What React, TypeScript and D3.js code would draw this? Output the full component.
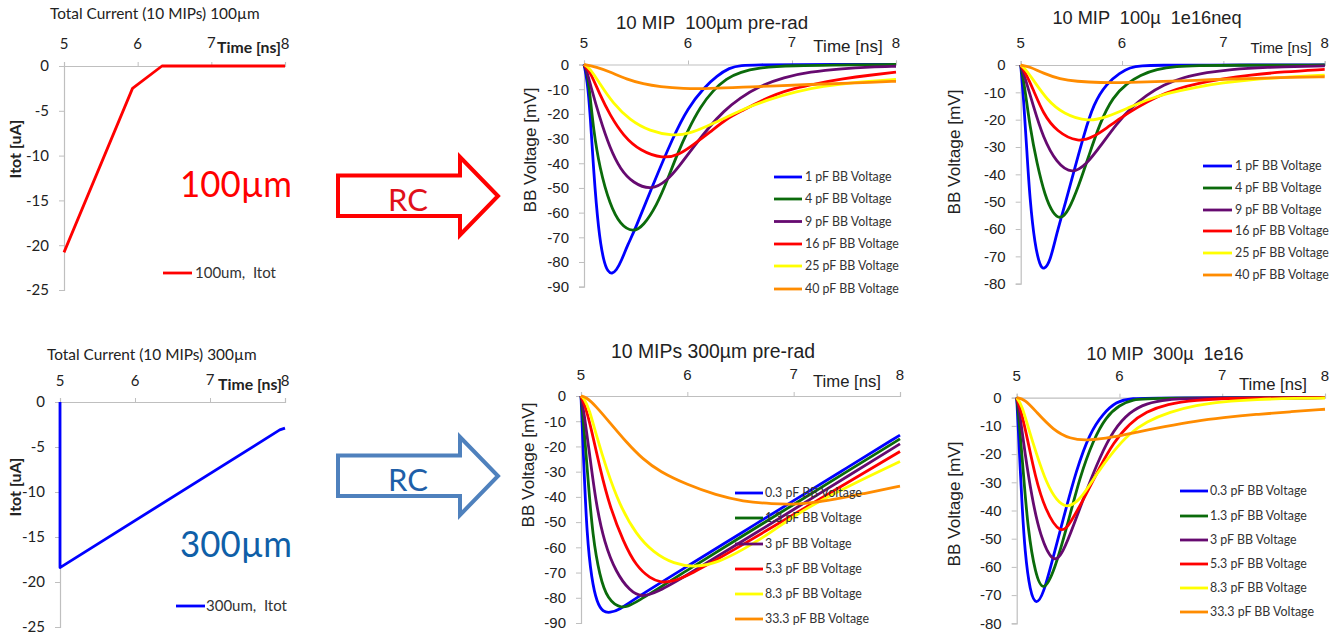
import { useEffect, useRef } from 'react';
import * as d3 from 'd3';

type Pt = [number, number];

const xTicks = [5, 6, 7, 8];
const currentTicks = [0, -5, -10, -15, -20, -25];
const ticks90 = [0, -10, -20, -30, -40, -50, -60, -70, -80, -90];
const ticks80 = [0, -10, -20, -30, -40, -50, -60, -70, -80];

const labels100 = ['1 pF BB Voltage', '4 pF BB Voltage', '9 pF BB Voltage', '16 pF BB Voltage', '25 pF BB Voltage', '40 pF BB Voltage'];
const labels300 = ['0.3 pF BB Voltage', '1.3 pF BB Voltage', '3 pF BB Voltage', '5.3 pF BB Voltage', '8.3 pF BB Voltage', '33.3 pF BB Voltage'];
const seriesColors = ['#0000ff', '#0b6b0b', '#660a70', '#ff0000', '#ffff00', '#ff8c00'];

// total current
const itot100: Pt[] = [[5, -20.8], [5.93, -2.5], [6.33, 0], [8, 0]];
const itot300: Pt[] = [[5, 0], [5, -18.4], [7.93, -3.1], [8, -2.9]];

// 100um pre-rad
const pre100_1: Pt[] = [[5, 0], [5.03, -6], [5.06, -20], [5.09, -42], [5.14, -68], [5.19, -80], [5.23, -84], [5.27, -84.8], [5.31, -83.5], [5.36, -79.5], [5.42, -73], [5.49, -67], [5.65, -50], [5.86, -29], [6, -17.5], [6.15, -9.5], [6.28, -4.5], [6.4, -1.3], [6.5, -0.3], [6.7, -0.1], [6.92, 0], [8, 0]];
const pre100_4: Pt[] = [[5, 0], [5.03, -3], [5.06, -13], [5.09, -26], [5.15, -42], [5.25, -57], [5.35, -65], [5.47, -68], [5.57, -65.5], [5.7, -57], [5.8, -47], [5.89, -37], [6, -26.5], [6.12, -17], [6.24, -10.5], [6.37, -5.7], [6.5, -3], [6.7, -1.3], [6.85, -0.8], [7.01, -0.5], [7.33, -0.2], [8, 0]];
const pre100_9: Pt[] = [[5, 0], [5.03, -3], [5.06, -8], [5.15, -21.5], [5.25, -34], [5.35, -42.5], [5.47, -48], [5.65, -51], [5.8, -47], [5.92, -41], [6.05, -33.5], [6.21, -25], [6.34, -19], [6.5, -13.5], [6.69, -8.7], [6.92, -5.2], [7.17, -3], [7.49, -1.6], [7.75, -1], [8, -0.7]];
const pre100_16: Pt[] = [[5, 0], [5.06, -3], [5.15, -12], [5.25, -20.5], [5.38, -29], [5.54, -35], [5.76, -38.2], [5.92, -36.5], [6.05, -32.5], [6.21, -27.5], [6.37, -21.9], [6.53, -18.5], [6.69, -15], [6.85, -12], [7.01, -9.7], [7.24, -7.7], [7.49, -5.8], [7.75, -4.3], [8, -3.1]];
const pre100_25: Pt[] = [[5, 0], [5.06, -1.6], [5.15, -7.7], [5.28, -15.8], [5.44, -22.5], [5.63, -27], [5.86, -29], [6.02, -27.9], [6.18, -25], [6.34, -22], [6.53, -18], [6.79, -14], [7.04, -10.9], [7.3, -8.8], [7.59, -7.3], [7.81, -6.6], [8, -6]];
const pre100_40: Pt[] = [[5, 0], [5.12, -1], [5.25, -3], [5.41, -6], [5.57, -7.9], [5.73, -9], [5.95, -9.8], [6.21, -9.8], [6.53, -9.2], [6.85, -8.6], [7.17, -8.1], [7.49, -7.6], [7.75, -7.2], [8, -6.8]];

// 100um 1e16
const irr100_1: Pt[] = [[5, 0], [5.03, -13], [5.06, -31], [5.09, -49], [5.14, -66], [5.19, -73.5], [5.23, -75], [5.29, -72], [5.355, -61.6], [5.44, -50.6], [5.52, -39.6], [5.62, -26], [5.72, -14], [5.85, -6.7], [5.98, -2.8], [6.08, -0.9], [6.18, -0.2], [6.4, -0.1], [6.7, 0], [8, 0]];
const irr100_4: Pt[] = [[5, 0], [5.04, -8], [5.09, -22.5], [5.16, -36], [5.24, -48], [5.32, -54.5], [5.395, -56.5], [5.47, -53.5], [5.57, -44.5], [5.67, -33.5], [5.78, -21.3], [5.91, -11.6], [6.05, -6.7], [6.18, -3.7], [6.34, -1.5], [6.54, -0.5], [6.74, -0.2], [7.07, -0.1], [8, 0]];
const irr100_9: Pt[] = [[5, 0], [5.04, -4.3], [5.125, -15], [5.22, -26.5], [5.355, -36], [5.51, -40], [5.65, -36.3], [5.78, -30], [5.95, -21.3], [6.08, -16], [6.24, -11], [6.41, -7.3], [6.6, -4.5], [6.84, -2.7], [7.07, -1.6], [7.39, -0.85], [8, -0.3]];
const irr100_16: Pt[] = [[5, 0], [5.04, -2.4], [5.125, -9], [5.22, -17.7], [5.355, -24.4], [5.57, -28.4], [5.72, -26.3], [5.85, -23], [5.98, -19.5], [6.145, -15.6], [6.34, -11.6], [6.54, -8.7], [6.74, -6.8], [7, -5], [7.26, -3.7], [7.59, -2.5], [8, -1.6]];
const irr100_25: Pt[] = [[5, 0], [5.04, -1.2], [5.125, -5.5], [5.26, -12.8], [5.42, -17.9], [5.67, -20.9], [5.85, -19], [6.05, -15.9], [6.24, -12.8], [6.44, -10.4], [6.74, -8], [7, -6.5], [7.26, -5.4], [7.59, -4.5], [8, -3.7]];
const irr100_40: Pt[] = [[5, 0], [5.09, -0.6], [5.22, -3], [5.39, -5.2], [5.55, -6], [5.78, -6.5], [6.08, -6.4], [6.41, -6], [6.74, -5.6], [7, -5.2], [7.33, -4.9], [7.66, -4.5], [8, -4.3]];

// 300um pre-rad
const pre300_03: Pt[] = [[5, 0], [5.025, -26], [5.056, -55.7], [5.1, -72.8], [5.15, -82], [5.207, -85.6], [5.27, -86], [5.364, -84.7], [5.5, -80.5], [6, -67.5], [6.5, -54.5], [7, -41.5], [7.5, -28.5], [8, -15.5]];
const pre300_13: Pt[] = [[5, 0], [5.03, -13.5], [5.066, -33], [5.11, -55.7], [5.176, -71.5], [5.25, -80.7], [5.38, -84.5], [5.49, -82.7], [6, -69], [6.5, -56], [7, -43], [7.5, -30], [8, -17]];
const pre300_3: Pt[] = [[5, 0], [5.03, -7], [5.08, -22.7], [5.14, -42.5], [5.22, -58.3], [5.33, -70], [5.46, -77.4], [5.57, -79.8], [5.71, -78], [6, -71], [6.5, -58], [7, -45], [7.5, -32], [8, -19]];
const pre300_53: Pt[] = [[5, 0], [5.04, -4], [5.1, -13.5], [5.18, -29], [5.27, -43.8], [5.4, -58], [5.52, -67.5], [5.65, -72.3], [5.756, -74], [5.85, -73.6], [6, -71.5], [6.5, -59.5], [7, -47], [7.5, -34.5], [8, -22]];
const pre300_83: Pt[] = [[5, 0], [5.03, -1], [5.08, -5.5], [5.14, -15], [5.24, -29], [5.36, -43], [5.52, -55], [5.68, -62], [5.87, -66.6], [6.085, -68], [6.3, -65.8], [6.52, -61], [6.78, -54.4], [7.03, -46.5], [7.5, -36], [8, -26]];
const pre300_333: Pt[] = [[5, 0], [5.05, -0.5], [5.14, -4], [5.27, -10.5], [5.43, -18.5], [5.58, -25], [5.74, -30], [6, -35.2], [6.27, -39.3], [6.52, -41.8], [6.8, -42.8], [7.03, -43], [7.31, -41.6], [7.65, -38.8], [8, -35.7]];

// 300um 1e16
const irr300_03: Pt[] = [[5, 0], [5.016, -11.5], [5.05, -37], [5.08, -55], [5.13, -69], [5.19, -73.8], [5.26, -69.5], [5.34, -58.7], [5.45, -43.4], [5.58, -25.6], [5.71, -12.6], [5.84, -5.6], [5.97, -1.4], [6.1, -0.2], [6.43, 0], [8, 0]];
const irr300_13: Pt[] = [[5, 0], [5.026, -9], [5.065, -26.8], [5.11, -47], [5.18, -62.5], [5.26, -69.5], [5.37, -61], [5.49, -45.7], [5.615, -28], [5.745, -15], [5.87, -6.7], [6, -2.6], [6.13, -0.6], [6.3, -0.1], [8, 0]];
const irr300_3: Pt[] = [[5, 0], [5.03, -5.5], [5.08, -19.7], [5.146, -35], [5.227, -49], [5.356, -59.2], [5.45, -55], [5.55, -45.7], [5.68, -32.7], [5.81, -21], [5.94, -11.5], [6.1, -5], [6.26, -2], [6.46, -0.6], [6.75, -0.1], [8, 0]];
const irr300_53: Pt[] = [[5, 0], [5.04, -4.4], [5.1, -13.8], [5.18, -28], [5.275, -39.7], [5.43, -49], [5.53, -44], [5.68, -34], [5.81, -24.5], [5.94, -16], [6.1, -9], [6.26, -5], [6.46, -2.2], [6.75, -0.8], [7.07, -0.2], [7.46, -0.1], [8, 0]];
const irr300_83: Pt[] = [[5, 0], [5.05, -2.6], [5.11, -10.3], [5.19, -19.7], [5.29, -30.4], [5.39, -36.6], [5.486, -39.2], [5.615, -36.6], [5.78, -26.8], [5.94, -19], [6.1, -12.6], [6.26, -8.5], [6.49, -5], [6.75, -2.6], [7, -1.4], [7.33, -0.6], [7.72, -0.2], [8, -0.1]];
const irr300_333: Pt[] = [[5, 0], [5.08, -0.6], [5.19, -5], [5.356, -11.5], [5.52, -14.6], [5.68, -15.3], [5.94, -14], [6.17, -12.2], [6.43, -10.3], [6.75, -8.2], [7, -7.1], [7.33, -5.9], [7.66, -5], [8, -4.1]];

const LATO = 'Lato, sans-serif';
const ARIAL = '"Liberation Sans", Arial, sans-serif';

type Panel = {
  x: [number, number];
  y: [number, number];
  yMin: number;
  yTicks: number[];
  series: Pt[][];
  labels: string[];
  colors: string[];
  smooth: boolean;
  title: string;
  titleX: number;
  titleY: number;
  titleSize: number;
  small: boolean; // the two Itot plots have smaller Calibri style text
  xTickY: number;
  timeX: number;
  timeY: number;
  timeSize: number;
  yTitle: string;
  yTitleX: number;
  yTitleY: number;
  legendLine: [number, number];
  legendText: number;
  legendY: number[];
};

const panels: Panel[] = [
  { x: [64, 285], y: [66, 290], yMin: -25, yTicks: currentTicks, series: [itot100], labels: ['100um,  Itot'], colors: ['#ff0000'], smooth: false,
    title: 'Total Current (10 MIPs) 100µm', titleX: 50, titleY: 19, titleSize: 15.4, small: true, xTickY: 49, timeX: 249, timeY: 53, timeSize: 15.8,
    yTitle: 'Itot [uA]', yTitleX: 15, yTitleY: 149, legendLine: [163, 192], legendText: 195, legendY: [273] },
  { x: [584, 896], y: [64.5, 286.7], yMin: -90, yTicks: ticks90, series: [pre100_1, pre100_4, pre100_9, pre100_16, pre100_25, pre100_40], labels: labels100, colors: seriesColors, smooth: true,
    title: '10 MIP  100µm pre-rad', titleX: 712, titleY: 29, titleSize: 18.7, small: false, xTickY: 48, timeX: 848, timeY: 52, timeSize: 17,
    yTitle: 'BB Voltage [mV]', yTitleX: 530, yTitleY: 150, legendLine: [774, 802], legendText: 805, legendY: [177, 199, 221.5, 244, 266, 289] },
  { x: [1020.7, 1324.7], y: [65, 283.7], yMin: -80, yTicks: ticks80, series: [irr100_1, irr100_4, irr100_9, irr100_16, irr100_25, irr100_40], labels: labels100, colors: seriesColors, smooth: true,
    title: '10 MIP  100µ  1e16neq', titleX: 1147, titleY: 24, titleSize: 18.2, small: false, xTickY: 48, timeX: 1281, timeY: 53, timeSize: 15,
    yTitle: 'BB Voltage [mV]', yTitleX: 954, yTitleY: 152, legendLine: [1203, 1232], legendText: 1235, legendY: [166, 188, 210, 231, 253, 275] },
  { x: [60, 285], y: [402, 627], yMin: -25, yTicks: currentTicks, series: [itot300], labels: ['300um,  Itot'], colors: ['#0000ff'], smooth: false,
    title: 'Total Current (10 MIPs) 300µm', titleX: 47, titleY: 360, titleSize: 15.4, small: true, xTickY: 386, timeX: 250, timeY: 390, timeSize: 15.8,
    yTitle: 'Itot [uA]', yTitleX: 15, yTitleY: 487, legendLine: [176, 205], legendText: 206, legendY: [606] },
  { x: [581, 900], y: [396, 623], yMin: -90, yTicks: ticks90, series: [pre300_03, pre300_13, pre300_3, pre300_53, pre300_83, pre300_333], labels: labels300, colors: seriesColors, smooth: true,
    title: '10 MIPs 300µm pre-rad', titleX: 713, titleY: 358, titleSize: 19.4, small: false, xTickY: 380, timeX: 847, timeY: 387, timeSize: 16.7,
    yTitle: 'BB Voltage [mV]', yTitleX: 528, yTitleY: 465, legendLine: [735, 763], legendText: 765, legendY: [493, 518, 544, 569, 594, 619] },
  { x: [1016.7, 1325], y: [397.7, 623.3], yMin: -80, yTicks: ticks80, series: [irr300_03, irr300_13, irr300_3, irr300_53, irr300_83, irr300_333], labels: labels300, colors: seriesColors, smooth: true,
    title: '10 MIP  300µ  1e16', titleX: 1165, titleY: 360, titleSize: 18, small: false, xTickY: 381, timeX: 1273, timeY: 390, timeSize: 16.7,
    yTitle: 'BB Voltage [mV]', yTitleX: 954, yTitleY: 504, legendLine: [1180, 1208], legendText: 1210, legendY: [491, 516, 540, 564, 588, 612] },
];

const arrows = [
  { top: 157, color: '#ff0000', textColor: '#e0101a', big: '100µm', bigColor: '#ff0000', bigY: 197 },
  { top: 437, color: '#4f81bd', textColor: '#1f5fa8', big: '300µm', bigColor: '#0f5fa8', bigY: 557 },
];

export default function App() {
  const svgRef = useRef<SVGSVGElement>(null);

  useEffect(() => {
    const svg = d3.select(svgRef.current);
    svg.selectAll('*').remove();

    panels.forEach(p => {
      const g = svg.append('g');
      const x = d3.scaleLinear().domain([5, 8]).range(p.x);
      const y = d3.scaleLinear().domain([0, p.yMin]).range(p.y);
      const tickFont = p.small ? LATO : ARIAL;
      const tickSize = 15;

      // Axes
      const xAxis = g.append('g')
        .attr('transform', `translate(0,${p.y[0]})`)
        .call(d3.axisTop(x).tickValues(xTicks).tickSize(4).tickPadding(0).tickFormat(d => `${d}`));
      xAxis.selectAll('text').remove();

      g.selectAll('.xlab')
        .data(xTicks)
        .enter()
        .append('text')
        .attr('x', d => x(d))
        .attr('y', d => (d === 7 ? p.xTickY - 1 : p.xTickY))
        .attr('text-anchor', 'middle')
        .attr('font-family', tickFont)
        .attr('font-size', tickSize)
        .attr('fill', '#222')
        .text(d => `${d}`);

      const yAxis = g.append('g')
        .attr('transform', `translate(${p.x[0]},0)`)
        .call(d3.axisLeft(y).tickValues(p.yTicks).tickSize(5).tickPadding(10).tickFormat(d => `${d}`));
      yAxis.selectAll('text')
        .attr('font-family', tickFont)
        .attr('font-size', tickSize)
        .attr('fill', '#222');
      g.selectAll('.domain').attr('stroke', '#bfbfbf').attr('stroke-width', 1.2);
      g.selectAll('.tick line').attr('stroke', '#bfbfbf');

      // Curves
      const line = d3.line<Pt>()
        .x(d => x(d[0]))
        .y(d => y(d[1]))
        .curve(p.smooth ? d3.curveBasis : d3.curveLinear);

      p.series.forEach((s, i) => {
        g.append('path')
          .attr('d', line(s))
          .attr('fill', 'none')
          .attr('stroke', p.colors[i])
          .attr('stroke-width', 2.8)
          .attr('stroke-linejoin', 'round');
      });

      // Legend
      p.labels.forEach((label, i) => {
        g.append('line')
          .attr('x1', p.legendLine[0])
          .attr('x2', p.legendLine[1])
          .attr('y1', p.legendY[i])
          .attr('y2', p.legendY[i])
          .attr('stroke', p.colors[i])
          .attr('stroke-width', 2.8);
        g.append('text')
          .attr('x', p.legendText)
          .attr('y', p.legendY[i])
          .attr('dy', '0.35em')
          .attr('font-family', LATO)
          .attr('font-size', p.small ? 15 : 12.4)
          .attr('fill', '#333')
          .style('white-space', 'pre')
          .text(label);
      });

      // Titles
      g.append('text')
        .attr('x', p.titleX)
        .attr('y', p.titleY)
        .attr('text-anchor', p.small ? 'start' : 'middle')
        .attr('font-family', p.small ? LATO : ARIAL)
        .attr('font-size', p.titleSize)
        .attr('fill', '#222')
        .style('white-space', 'pre')
        .text(p.title);

      g.append('text')
        .attr('x', p.timeX)
        .attr('y', p.timeY)
        .attr('text-anchor', 'middle')
        .attr('font-family', p.small ? LATO : ARIAL)
        .attr('font-weight', p.small ? 'bold' : 'normal')
        .attr('font-size', p.timeSize)
        .attr('fill', '#222')
        .text('Time [ns]');

      g.append('text')
        .attr('transform', `translate(${p.yTitleX},${p.yTitleY}) rotate(-90)`)
        .attr('dy', '0.35em')
        .attr('text-anchor', 'middle')
        .attr('font-family', p.small ? LATO : ARIAL)
        .attr('font-weight', p.small ? 'bold' : 'normal')
        .attr('font-size', p.small ? 16 : 17.2)
        .attr('fill', '#222')
        .text(p.yTitle);
    });

    // RC arrows and the thickness labels
    arrows.forEach(a => {
      const h = a.top;
      const outline = d3.line()([
        [338, h + 18.5], [460, h + 18.5], [460, h], [498, h + 39], [460, h + 78], [460, h + 59], [338, h + 59],
      ] as [number, number][]);
      svg.append('path')
        .attr('d', `${outline}Z`)
        .attr('fill', '#fff')
        .attr('stroke', a.color)
        .attr('stroke-width', 4);
      svg.append('text')
        .attr('x', 408)
        .attr('y', h + 54)
        .attr('text-anchor', 'middle')
        .attr('font-family', LATO)
        .attr('font-size', 31)
        .attr('fill', a.textColor)
        .text('RC');
      svg.append('text')
        .attr('x', 292)
        .attr('y', a.bigY)
        .attr('text-anchor', 'end')
        .attr('font-family', LATO)
        .attr('font-size', 37)
        .attr('textLength', 112)
        .attr('lengthAdjust', 'spacingAndGlyphs')
        .attr('fill', a.bigColor)
        .text(a.big);
    });
  }, []);

  return (
    <svg
      ref={svgRef}
      width={1338}
      height={638}
      style={{ position: 'absolute', left: 0, top: 0, background: '#fff' }}
    />
  );
}
